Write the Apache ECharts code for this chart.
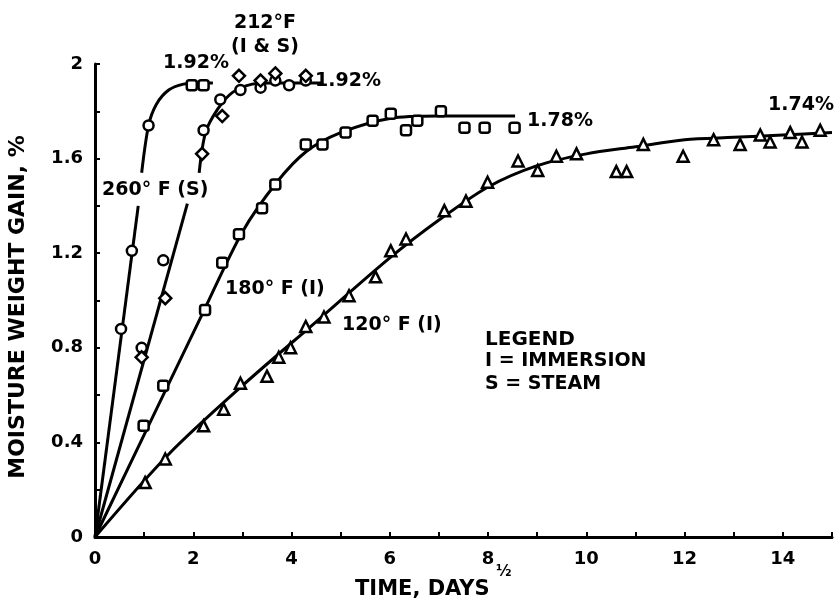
<!DOCTYPE html>
<html><head><meta charset="utf-8">
<script src="https://cdn.jsdelivr.net/npm/echarts@6/dist/echarts.min.js"></script>
<style>html,body{margin:0;padding:0;background:#fff}#c{width:835px;height:606px}</style>
</head><body><div id="c"></div>
<script>
// Tick labels
const xTickLabels = ['0','2','4','6','8','10','12','14'];
const yTickLabels = ['0','0.4','0.8','1.2','1.6','2'];

// Measured points [sqrt(days), gain %]
const pts260 = [[0.53,0.88],[0.75,1.21],[1.09,1.74]];
const pts260b = [[1.97,1.91],[2.21,1.91]];
const pts212circ = [[0.95,0.80],[1.39,1.17],[2.21,1.72],[2.55,1.85],[2.96,1.89],[3.37,1.90],[3.67,1.93],[3.95,1.91],[4.29,1.93]];
const pts212diam = [[0.95,0.76],[1.43,1.01],[2.18,1.62],[2.59,1.78],[2.93,1.95],[3.37,1.93],[3.67,1.96],[4.29,1.95]];
const pts180 = [[0.99,0.47],[1.39,0.64],[2.24,0.96],[2.59,1.16],[2.93,1.28],[3.40,1.39],[3.67,1.49],[4.29,1.66],[4.63,1.66],[5.10,1.71],[5.65,1.76],[6.02,1.79],[6.33,1.72],[6.56,1.76],[7.04,1.80],[7.52,1.73],[7.93,1.73],[8.54,1.73]];
const pts120 = [[1.02,0.23],[1.43,0.33],[2.21,0.47],[2.62,0.54],[2.96,0.65],[3.50,0.68],[3.74,0.76],[3.98,0.80],[4.29,0.89],[4.66,0.93],[5.17,1.02],[5.71,1.10],[6.02,1.21],[6.33,1.26],[7.11,1.38],[7.55,1.42],[7.99,1.50],[8.61,1.59],[9.01,1.55],[9.39,1.61],[9.80,1.62],[10.61,1.545],[10.82,1.545],[11.16,1.66],[11.97,1.61],[12.59,1.68],[13.13,1.66],[13.54,1.70],[13.74,1.67],[14.15,1.71],[14.39,1.67],[14.76,1.72]];

// Fitted curves (broken where the labels sit)
const fit260a = [[0,0],[0.88,1.40]];
const fit260b = [[0.95,1.54],[1.09,1.74],[1.25,1.83],[1.5,1.89],[1.8,1.915],[2.1,1.92],[2.4,1.92]];
const fit212a = [[0,0],[1.88,1.41]];
const fit212b = [[2.12,1.54],[2.25,1.71],[2.5,1.81],[2.8,1.88],[3.2,1.915],[3.6,1.92],[4.6,1.92]];
const fit180 = [[0,0],[2.2,0.95],[3.0,1.29],[3.7,1.50],[4.3,1.63],[5,1.71],[6,1.77],[7,1.78],[8.55,1.78]];
const fit120 = [[0,0],[1.5,0.35],[3,0.64],[4.5,0.91],[6,1.18],[7,1.34],[8,1.48],[9,1.57],[10,1.62],[11,1.65],[12,1.68],[13,1.69],[14,1.70],[15,1.71]];

const F = '"DejaVu Sans", "Liberation Sans", Arial, sans-serif';
const chart = echarts.init(document.getElementById('c'));
function line(d){return {type:'line',data:d,smooth:0.3,symbol:'none',lineStyle:{color:'#000',width:3},z:2,silent:true};}
function mk(d,sym,size){return {type:'scatter',data:d,symbol:sym,symbolSize:size||10,itemStyle:{color:'#fff',borderColor:'#000',borderWidth:2.5,opacity:1},z:3,silent:true};}
const txt=(x,y,t,s,align,rot)=>({type:'text',x:x,y:y,rotation:rot||0,style:{text:t,font:'bold '+(s||19)+'px '+F,fill:'#000',align:align||'left',verticalAlign:'middle'}});
chart.setOption({
  animation:false,
  backgroundColor:'#fff',
  grid:{left:95,right:0,top:64,bottom:69,containLabel:false},
  xAxis:{type:'value',min:0,max:15,interval:1,
    axisLine:{lineStyle:{color:'#000',width:3}},
    axisTick:{inside:true,length:5,lineStyle:{color:'#000',width:2}},
    splitLine:{show:false},
    axisLabel:{margin:13,color:'#000',fontFamily:F,fontWeight:'bold',fontSize:18,
      formatter:v=>{const i=xTickLabels.indexOf(String(v));return i>=0?xTickLabels[i]:'';}}},
  yAxis:{type:'value',min:0,max:2,interval:0.2,
    axisLine:{show:true,lineStyle:{color:'#000',width:3}},
    axisTick:{show:true,inside:true,length:5,lineStyle:{color:'#000',width:2}},
    splitLine:{show:false},
    axisLabel:{margin:12,color:'#000',fontFamily:F,fontWeight:'bold',fontSize:18,
      formatter:v=>{const s=String(Math.round(v*10)/10);return yTickLabels.indexOf(s)>=0?s:'';}}},
  series:[
    line(fit260a),line(fit260b),line(fit212a),line(fit212b),line(fit180),line(fit120),
    mk(pts260,'circle',10),mk(pts260b,'roundRect',10),mk(pts212circ,'circle',10),mk(pts212diam,'diamond',12),
    mk(pts180,'roundRect',10),mk(pts120,'triangle',11)
  ],
  graphic:[
    txt(18,307,'MOISTURE WEIGHT GAIN, %',22,'center',Math.PI/2),
    txt(355,590,'TIME, DAYS',21,'left'),
    txt(496,572,'½',15,'left'),
    txt(196,63,'1.92%',19,'center'),
    txt(265,23,'212°F',19,'center'),
    txt(265,47,'(I & S)',19,'center'),
    txt(315,81,'1.92%'),
    txt(527,121,'1.78%'),
    txt(768,105,'1.74%'),
    txt(102,190,'260° F (S)'),
    txt(225,289,'180° F (I)'),
    txt(342,325,'120° F (I)'),
    txt(485,340,'LEGEND',20),
    txt(485,361,'I = IMMERSION',19),
    txt(485,384,'S = STEAM',19)
  ]
});
</script></body></html>
